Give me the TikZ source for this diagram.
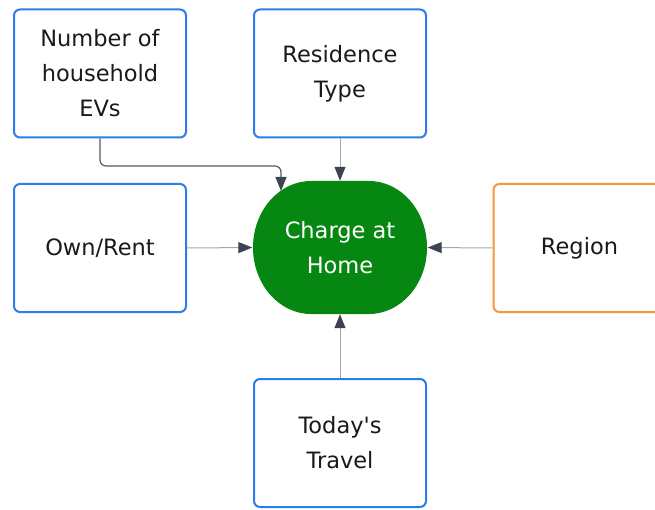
\documentclass[tikz,border=0pt]{standalone}
\usepackage{fontspec}
\setmainfont[Ligatures=TeXOff]{DejaVu Sans}
\usetikzlibrary{arrows.meta}
\definecolor{boxblue}{HTML}{2B7DE9}
\definecolor{boxorange}{HTML}{F7963A}
\definecolor{chgreen}{HTML}{068711}
\definecolor{tipgray}{HTML}{3D4350}
\definecolor{linegray}{HTML}{A6A6A6}
\definecolor{linedark}{HTML}{555A62}
\definecolor{txt}{HTML}{1A1A1A}
\tikzset{
  factor/.style={draw=boxblue, line width=2pt, rounded corners=6pt, fill=white,
    minimum width=172pt, minimum height=128pt, align=center, text=txt,
    font=\fontsize{22.5pt}{35pt}\selectfont, inner sep=0pt},
  target/.style={minimum width=175pt,
    minimum height=133pt, align=center, text=white,
    font=\fontsize{22.5pt}{35pt}\selectfont, inner sep=0pt},
  conn/.style={draw=linegray, line width=1pt,
    -{Triangle[length=14pt,width=11pt,fill=tipgray,color=tipgray]}},
  conndark/.style={conn, draw=linedark, line width=1.2pt}
}
\begin{document}
\begin{tikzpicture}[x=1pt,y=-1pt]
\clip (0,0) rectangle (655,510);
\node[factor] (ev) at (100,73.5) {Number of\\household\\EVs};
\node[factor] (res) at (340,73.5) {Residence\\Type};
\node[factor] (own) at (100,248) {Own/Rent};
\node[factor, draw=boxorange] (reg) at (579.5,248) {Region};
\node[factor] (trav) at (340,443) {Today's\\Travel};
% green shape with elliptical corners (rx=58, ry=66.5)
\fill[chgreen] (311,181) -- (369,181)
  .. controls (401,181) and (427,210.8) .. (427,247.5)
  .. controls (427,284.2) and (401,314) .. (369,314)
  -- (311,314)
  .. controls (279,314) and (253,284.2) .. (253,247.5)
  .. controls (253,210.8) and (279,181) .. (311,181) -- cycle;
\node[target] (home) at (340,247.5) {Charge at\\Home};
\coordinate (evin) at (281,191);
\draw[conndark, rounded corners=6pt] (ev.south) |- (281,166) -- (evin);
\draw[conn] (res.south) -- (home.north);
\draw[conn] (own.east) -- (home.west);
\draw[conn] (reg.west) -- (home.east);
\draw[conn] (trav.north) -- (home.south);
\end{tikzpicture}
\end{document}
